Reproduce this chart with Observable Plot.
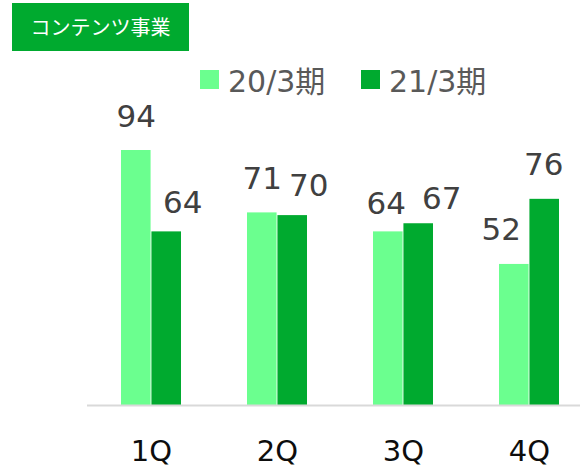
<!DOCTYPE html>
<html>
<head>
<meta charset="utf-8">
<script src="https://cdn.jsdelivr.net/npm/d3@7"></script>
<script src="https://cdn.jsdelivr.net/npm/@observablehq/plot@0.6"></script>
<style>
  body { margin: 0; background: #fff; }
  #wrap { position: relative; width: 580px; height: 472px; font-family: "DejaVu Sans", "Noto Sans CJK JP", sans-serif; }
  #wrap svg { position: absolute; left: 0; top: 0; }
  #title { position: absolute; left: 12px; top: 3px; width: 177px; height: 48px; background: #00AA2F; color: #fff;
           font-family: "Noto Sans CJK JP", sans-serif; font-size: 20px; line-height: 48px; text-align: center; box-sizing: border-box; }
  #legend { position: absolute; left: 200px; top: 57px; display: flex; align-items: center; font-size: 30px; color: #595959; white-space: nowrap; }
  .item { display: flex; align-items: center; width: 161px; }
  .sw { width: 19px; height: 19px; margin-right: 9px; }
</style>
</head>
<body>
<div id="wrap">
  <div id="title">コンテンツ事業</div>
  <div id="legend"></div>
</div>
<script>
const quarters = ["1Q", "2Q", "3Q", "4Q"];
const seriesNames = ["20/3期", "21/3期"];
const fy20 = [94, 71, 64, 52];
const fy21 = [64, 70, 67, 76];

// styling
const colors = ["#6BFF8F", "#00AA2F"];
// label nudges (pixels) per [series][quarter], mimicking the original label placement
const labelNudgeX = [[0, 0, -2, -13], [16, 16, 23, -1]];
const labelNudgeY = [[0, 0, 6, 0], [5, 4, 9, 0]];

const rows = [];
[fy20, fy21].forEach((vals, s) => vals.forEach((v, i) => rows.push({q: quarters[i], series: seriesNames[s], s, i, v})));

const W = 580, H = 472;
const step = 507 / 4;
const bandwidth = step * 0.48;
const half = bandwidth / 2;

const marks = [];
marks.push(Plot.barY(rows.filter(d => d.s === 0), {x: "q", y: "v", fill: colors[0], insetRight: half}));
marks.push(Plot.barY(rows.filter(d => d.s === 1), {x: "q", y: "v", fill: colors[1], insetLeft: half}));
marks.push(Plot.ruleY([0], {stroke: "#D9D9D9", strokeWidth: 2}));
rows.forEach(r => {
  marks.push(Plot.text([r], {
    x: "q", y: "v", text: d => String(d.v),
    dx: (r.s === 0 ? -half / 2 : half / 2) + labelNudgeX[r.s][r.i],
    dy: -24 + labelNudgeY[r.s][r.i],
    lineAnchor: "bottom", fontSize: 31, fill: "#404040"
  }));
});
marks.push(Plot.axisX({tickSize: 0, tickPadding: 35, fontSize: 29, fill: "#0d0d0d", label: null}));

const chart = Plot.plot({
  width: W, height: H,
  marginLeft: 87, marginRight: 0, marginTop: 150, marginBottom: 67,
  style: {fontFamily: "'DejaVu Sans', 'Noto Sans CJK JP', sans-serif", background: "transparent"},
  x: {domain: quarters, range: [86.5, 593.5], paddingInner: 0.52, paddingOuter: 0.26, label: null},
  y: {domain: [0, d3.max([...fy20, ...fy21])], axis: null},
  marks
});
const wrap = document.getElementById("wrap");
wrap.insertBefore(chart, wrap.firstChild);

const legend = document.getElementById("legend");
seriesNames.forEach((n, i) => {
  const it = document.createElement("div");
  it.className = "item";
  const sw = document.createElement("div");
  sw.className = "sw"; sw.style.background = colors[i];
  const t = document.createElement("span");
  t.textContent = n;
  it.appendChild(sw); it.appendChild(t);
  legend.appendChild(it);
});
</script>
</body>
</html>
